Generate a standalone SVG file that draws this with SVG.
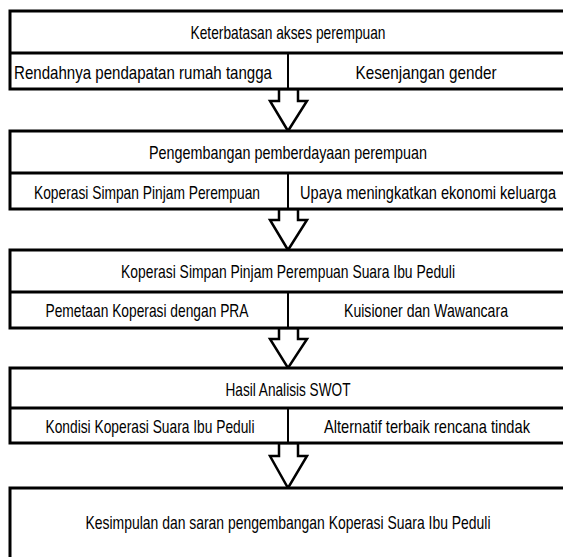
<svg xmlns="http://www.w3.org/2000/svg" width="563" height="557" viewBox="0 0 563 557">
<style>
.box{fill:#fff;stroke:#000;stroke-width:3}
.mid{stroke:#000;stroke-width:3}
.div{stroke:#000;stroke-width:2}
.arr{fill:#fff;stroke:#000;stroke-width:2.5;stroke-linejoin:miter}
text{font-family:"Liberation Sans Narrow","Liberation Sans",Arial,sans-serif;font-size:19px;fill:#000;text-anchor:middle}
</style>
<rect width="563" height="557" fill="#fff"/>
<g id="connectors">
<polygon class="arr" points="279,89 279,101 270,101 288,131 307,101 298,101 298,89"/>
<polygon class="arr" points="279,209 279,220 270,220 288,250 307,220 298,220 298,209"/>
<polygon class="arr" points="279,328 279,339 270,339 288,368 307,339 298,339 298,328"/>
<polygon class="arr" points="279,443 279,456 270,456 288,488 307,456 298,456 298,443"/>
</g>
<g id="node1">
<rect class="box" x="10" y="11" width="560" height="78"/>
<line class="mid" x1="10" y1="53" x2="570" y2="53"/>
<line class="div" x1="288" y1="53" x2="288" y2="89"/>
<text x="288" y="39" textLength="195" lengthAdjust="spacingAndGlyphs">Keterbatasan akses perempuan</text>
<text x="143" y="79" textLength="258" lengthAdjust="spacingAndGlyphs">Rendahnya pendapatan rumah tangga</text>
<text x="426" y="79" textLength="141" lengthAdjust="spacingAndGlyphs">Kesenjangan gender</text>
</g>
<g id="node2">
<rect class="box" x="10" y="131" width="560" height="78"/>
<line class="mid" x1="10" y1="173" x2="570" y2="173"/>
<line class="div" x1="288" y1="173" x2="288" y2="209"/>
<text x="288" y="159" textLength="278" lengthAdjust="spacingAndGlyphs">Pengembangan pemberdayaan perempuan</text>
<text x="147" y="199" textLength="226" lengthAdjust="spacingAndGlyphs">Koperasi Simpan Pinjam Perempuan</text>
<text x="428" y="199" textLength="256" lengthAdjust="spacingAndGlyphs">Upaya meningkatkan ekonomi keluarga</text>
</g>
<g id="node3">
<rect class="box" x="10" y="250" width="560" height="78"/>
<line class="mid" x1="10" y1="292" x2="570" y2="292"/>
<line class="div" x1="288" y1="292" x2="288" y2="328"/>
<text x="288" y="278" textLength="334" lengthAdjust="spacingAndGlyphs">Koperasi Simpan Pinjam Perempuan Suara Ibu Peduli</text>
<text x="147" y="317" textLength="203" lengthAdjust="spacingAndGlyphs">Pemetaan Koperasi dengan PRA</text>
<text x="426" y="317" textLength="164" lengthAdjust="spacingAndGlyphs">Kuisioner dan Wawancara</text>
</g>
<g id="node4">
<rect class="box" x="10" y="368" width="560" height="75"/>
<line class="mid" x1="10" y1="408" x2="570" y2="408"/>
<line class="div" x1="288" y1="408" x2="288" y2="443"/>
<text x="288" y="396" textLength="125" lengthAdjust="spacingAndGlyphs">Hasil Analisis SWOT</text>
<text x="150" y="433" textLength="209" lengthAdjust="spacingAndGlyphs">Kondisi Koperasi Suara Ibu Peduli</text>
<text x="427" y="433" textLength="206" lengthAdjust="spacingAndGlyphs">Alternatif terbaik rencana tindak</text>
</g>
<g id="node5">
<rect class="box" x="10" y="488" width="560" height="80"/>
<text x="288" y="529" textLength="405" lengthAdjust="spacingAndGlyphs">Kesimpulan dan saran pengembangan Koperasi Suara Ibu Peduli</text>
</g>
</svg>
